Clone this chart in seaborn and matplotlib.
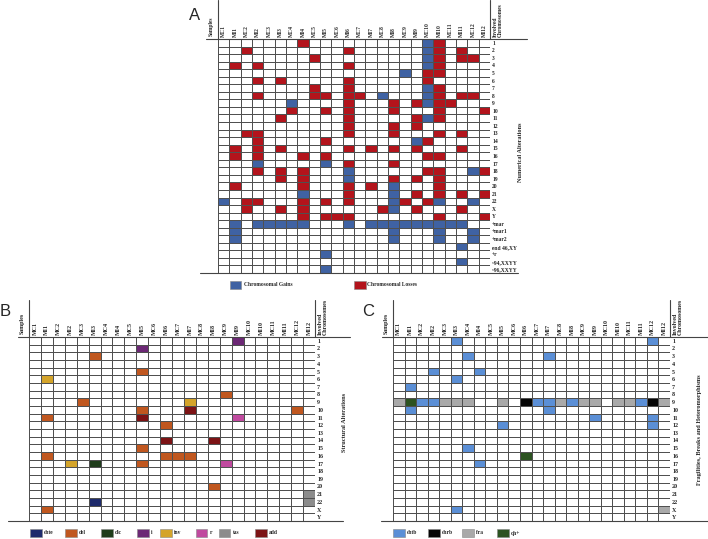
import numpy as np
import pandas as pd
import matplotlib
matplotlib.use('Agg')
import matplotlib.pyplot as plt
from matplotlib.colors import ListedColormap
from matplotlib.lines import Line2D
from matplotlib.patches import Rectangle
import seaborn as sns

sns.set_style('white')
plt.rcParams['font.family'] = ['Liberation Serif', 'DejaVu Serif']

# ─────────────────────────────────────────────
# Data
# ─────────────────────────────────────────────
samples = ["MC1", "MI1", "MC2", "MI2", "MC3", "MI3", "MC4", "MI4", "MC5", "MI5",
           "MC6", "MI6", "MC7", "MI7", "MC8", "MI8", "MC9", "MI9", "MC10", "MI10",
           "MC11", "MI11", "MC12", "MI12"]

chrom_rows = ["1", "2", "3", "4", "5", "6", "7", "8", "9", "10", "11", "12",
              "13", "14", "15", "16", "17", "18", "19", "20", "21", "22", "X", "Y"]
extra_rows_A = ["+mar", "+mar1", "+mar2", "end 46,XY", "+r", "~94,XXYY", "~96,XXYY"]

# Panel A: numerical alterations (row -> samples)
gains_A = {
    "1": ["MC10"], "2": ["MC10"], "3": ["MC10"], "4": ["MC10"], "5": ["MC9"],
    "7": ["MC10"], "8": ["MC8", "MC10"], "9": ["MC4", "MC10"], "11": ["MC10"],
    "14": ["MI9"], "17": ["MI2", "MI5"], "18": ["MI6", "MC12"], "19": ["MI6"],
    "20": ["MI8"], "21": ["MI4", "MI8"], "22": ["MC1", "MI8", "MI10", "MC12"],
    "X": ["MI8"],
    "+mar": ["MI1", "MI2", "MC3", "MI3", "MC4", "MI4", "MI6", "MI7", "MC8", "MI8",
             "MC9", "MI9", "MC10", "MI10", "MC11", "MI11"],
    "+mar1": ["MI1", "MI8", "MI10", "MC12"],
    "+mar2": ["MI1", "MI8", "MI10", "MC12"],
    "end 46,XY": ["MI11"], "+r": ["MI5"], "~94,XXYY": ["MI11"], "~96,XXYY": ["MI5"],
}
losses_A = {
    "1": ["MI4", "MI10"],
    "2": ["MC2", "MI6", "MI10", "MI11"],
    "3": ["MC5", "MI10", "MI11", "MC12"],
    "4": ["MI1", "MI2", "MI6", "MI10"],
    "5": ["MC10", "MI10"],
    "6": ["MI2", "MI3", "MI6", "MC10"],
    "7": ["MC5", "MI6", "MI10"],
    "8": ["MI2", "MC5", "MI5", "MI6", "MC7", "MI10", "MI11", "MC12"],
    "9": ["MI6", "MI8", "MI9", "MI10", "MC11"],
    "10": ["MC4", "MI5", "MI6", "MI8", "MI10", "MI12"],
    "11": ["MI3", "MI6", "MI9", "MI10"],
    "12": ["MI6", "MI8", "MI9"],
    "13": ["MC2", "MI2", "MI6", "MI8", "MI10", "MI11"],
    "14": ["MI2", "MI5", "MC10"],
    "15": ["MI1", "MI2", "MI3", "MI6", "MI7", "MI8", "MI9", "MI11"],
    "16": ["MI1", "MI2", "MI4", "MI5", "MC10", "MI10"],
    "17": ["MI6", "MI8"],
    "18": ["MI2", "MI3", "MI4", "MC10", "MI10", "MI12"],
    "19": ["MI3", "MI4", "MI8", "MI9", "MI10"],
    "20": ["MI1", "MI4", "MI6", "MI7", "MI10"],
    "21": ["MI6", "MI9", "MI10", "MI11", "MI12"],
    "22": ["MC2", "MI2", "MI4", "MI5", "MI6", "MC9", "MC10"],
    "X": ["MC2", "MI3", "MI4", "MC8", "MI9", "MI11"],
    "Y": ["MI4", "MI5", "MC6", "MI6", "MI10", "MI12"],
}
labels_A = ["Chromosomal Gains", "Chromosomal Losses"]
colors_A = ["#3f62a3", "#b3141c"]

# Panel B: structural alterations (row, sample)
chte_B = [("22", "MI3")]
del_B = [("3", "MI3"), ("5", "MI5"), ("8", "MC9"), ("9", "MC3"), ("10", "MI5"),
         ("10", "MC12"), ("11", "MI1"), ("12", "MI6"), ("15", "MI5"), ("16", "MI1"),
         ("16", "MI6"), ("16", "MC7"), ("16", "MI7"), ("17", "MI5"), ("20", "MI8"),
         ("X", "MI1")]
dic_B = [("17", "MI3")]
i_B = [("1", "MI9"), ("2", "MI5")]
inv_B = [("6", "MI1"), ("9", "MI7"), ("17", "MI2")]
r_B = [("11", "MI9"), ("17", "MC9")]
tas_B = [("21", "MI12"), ("22", "MI12")]
add_B = [("10", "MI7"), ("11", "MI5"), ("14", "MI6"), ("14", "MI8")]
labels_B = ["chte", "del", "dic", "i", "inv", "r", "tas", "add"]
colors_B = ["#1e2b6c", "#c0571f", "#1f3d1b", "#6c2875", "#d4a42a", "#c04a9f",
            "#8c8c8c", "#7c1315"]

# Panel C: fragilities, breaks and heteromorphisms (row, sample)
chtb_C = [("1", "MI3"), ("1", "MC12"), ("3", "MC4"), ("3", "MI7"), ("5", "MI2"),
          ("5", "MI4"), ("6", "MI3"), ("7", "MI1"), ("9", "MC2"), ("9", "MI2"),
          ("9", "MC7"), ("9", "MI7"), ("9", "MI8"), ("9", "MI11"), ("10", "MI1"),
          ("10", "MI7"), ("11", "MI9"), ("11", "MC12"), ("12", "MI5"), ("12", "MC12"),
          ("15", "MC4"), ("17", "MI4"), ("X", "MI3")]
chrb_C = [("9", "MI6"), ("9", "MC12")]
fra_C = [("9", "MC1"), ("9", "MC3"), ("9", "MI3"), ("9", "MC4"), ("9", "MI5"),
         ("9", "MC8"), ("9", "MC9"), ("9", "MI9"), ("9", "MI10"), ("9", "MC11"),
         ("9", "MI12"), ("X", "MI12")]
qh_C = [("9", "MI1"), ("16", "MI6")]
labels_C = ["chtb", "chrb", "fra", "qh+"]
colors_C = ["#5b8fd6", "#060606", "#a9a9a9", "#2c5321"]

# ─────────────────────────────────────────────
# Layout helpers (pixel positions of the 708x539 canvas)
# ─────────────────────────────────────────────
W, H = 708, 539
fig = plt.figure(figsize=(W / 100, H / 100), dpi=100)


def fx(x):
    return x / W


def fy(y):
    return 1 - y / H


def hline(y, x0, x1, lw=0.8):
    fig.add_artist(Line2D([fx(x0), fx(x1)], [fy(y), fy(y)], color='#444444',
                          lw=lw, transform=fig.transFigure))


def vline(x, y0, y1, lw=0.8):
    fig.add_artist(Line2D([fx(x), fx(x)], [fy(y0), fy(y1)], color='#444444',
                          lw=lw, transform=fig.transFigure))


def draw_grid(box, rows, layers, palette, fs):
    x0, y0, x1, y1 = box
    mat = pd.DataFrame(0, index=rows, columns=samples)
    for code, cells in enumerate(layers, start=1):
        for r, s in cells:
            mat.loc[r, s] = code
    cmap = ListedColormap(['white'] + palette)
    ax = fig.add_axes([fx(x0), fy(y1), (x1 - x0) / W, (y1 - y0) / H])
    sns.heatmap(mat, ax=ax, cmap=cmap, vmin=-0.5, vmax=len(palette) + 0.5,
                cbar=False, linewidths=0.6, linecolor='#505050')
    ax.xaxis.tick_top()
    ax.yaxis.tick_right()
    ax.set_xticks(np.arange(len(samples)) + 0.5)
    ax.set_xticklabels(samples, rotation=90, fontsize=fs, fontweight='bold')
    ax.set_yticks(np.arange(len(rows)) + 0.5)
    ax.set_yticklabels(rows, rotation=0, fontsize=fs, fontweight='bold', ha='left')
    ax.tick_params(length=0, pad=1.5)
    ax.set_xlabel('')
    ax.set_ylabel('')
    return ax


def legend_row(y, xs, labels, palette, fs):
    for x, lab, col in zip(xs, labels, palette):
        fig.add_artist(Rectangle((fx(x), fy(y + 8)), 11.5 / W, 8 / H, facecolor=col,
                                 edgecolor='#888888', lw=0.4, transform=fig.transFigure))
        fig.text(fx(x + 13.5), fy(y + 4), lab, fontsize=fs, fontweight='bold',
                 va='center', ha='left')


def headers(x_left, x_right, y_top, y_grid, y_bottom, line_l, line_r, bot_l, bot_r, fs):
    hline(y_grid, line_l, line_r)
    hline(y_bottom, bot_l, bot_r)
    vline(x_left, y_top, y_grid)
    vline(x_right, y_top, y_grid)
    fig.text(fx(x_left - 7), fy(y_grid - 3), "Samples", rotation=90, fontsize=fs,
             fontweight='bold', ha='center', va='bottom')
    fig.text(fx(x_right + 8), fy(y_grid - 2), "Involved\nChromosomes", rotation=90,
             fontsize=fs, fontweight='bold', ha='center', va='bottom',
             multialignment='left', linespacing=0.95)


# ─────────────────────────────────────────────
# Panel A
# ─────────────────────────────────────────────
rows_A = chrom_rows + extra_rows_A
gain_cells = [(r, s) for r, ss in gains_A.items() for s in ss]
loss_cells = [(r, s) for r, ss in losses_A.items() for s in ss]
draw_grid((218, 39, 490, 273), rows_A, [gain_cells, loss_cells], colors_A, 4)
headers(218, 490, 0, 39, 273, 206, 527, 200, 518, 4)
fig.text(fx(195), fy(16), "A", fontsize=12, family='Liberation Sans', ha='center', va='center')
fig.text(fx(521), fy(152), "Numerical Alterations", rotation=90, fontsize=4.5,
         fontweight='bold', ha='center', va='center')
legend_row(281, [230, 354], labels_A, colors_A, 4)

# ─────────────────────────────────────────────
# Panel B
# ─────────────────────────────────────────────
draw_grid((29, 337, 315, 521), chrom_rows,
          [chte_B, del_B, dic_B, i_B, inv_B, r_B, tas_B, add_B], colors_B, 4.3)
headers(29, 315, 300, 337, 521, 18, 350, 8, 343, 4.3)
fig.text(fx(5), fy(311), "B", fontsize=12, family='Liberation Sans', ha='center', va='center')
fig.text(fx(345), fy(422), "Structural Alterations", rotation=90, fontsize=4.5,
         fontweight='bold', ha='center', va='center')
legend_row(529, [30, 65, 101, 137, 160, 196, 219, 255], labels_B, colors_B, 4)

# ─────────────────────────────────────────────
# Panel C
# ─────────────────────────────────────────────
draw_grid((393, 337, 670, 521), chrom_rows, [chtb_C, chrb_C, fra_C, qh_C], colors_C, 4.3)
headers(393, 670, 300, 337, 521, 382, 708, 381, 708, 4.3)
fig.text(fx(368), fy(311), "C", fontsize=12, family='Liberation Sans', ha='center', va='center')
fig.text(fx(700), fy(430), "Fragilities, Breaks and Heteromorphisms", rotation=90,
         fontsize=4.5, fontweight='bold', ha='center', va='center')
legend_row(529, [393, 428, 462, 497], labels_C, colors_C, 4)

fig.savefig("out.png", dpi=100)
